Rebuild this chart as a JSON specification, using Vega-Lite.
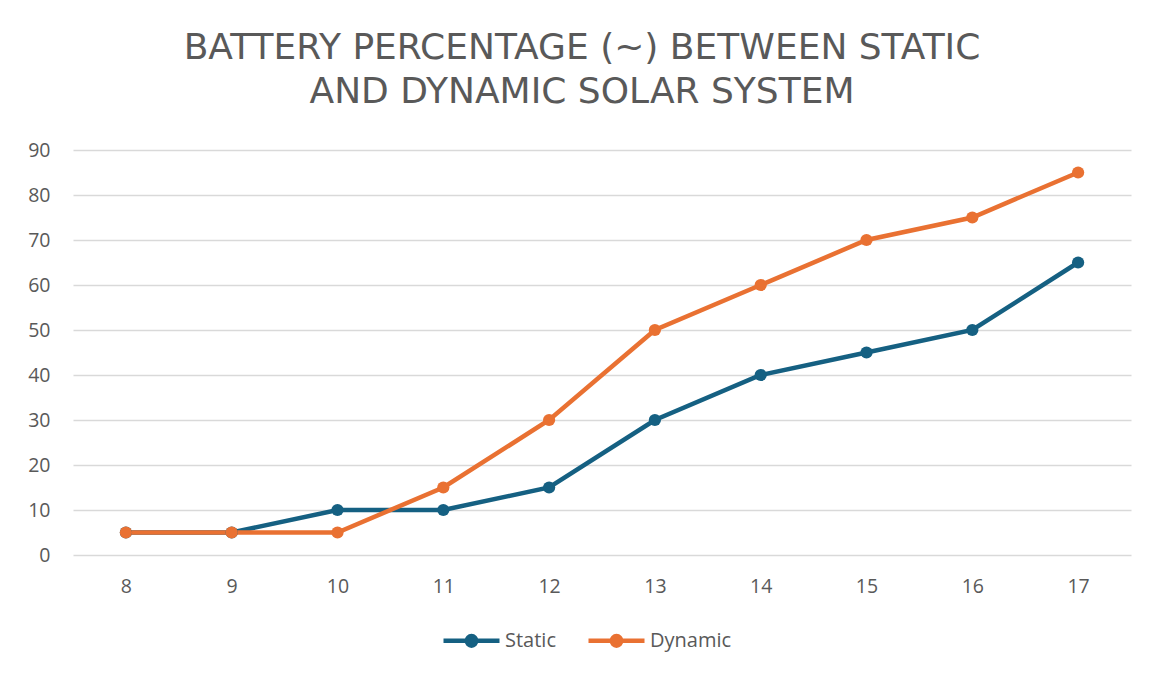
{
  "$schema": "https://vega.github.io/schema/vega-lite/v6.json",
  "width": 1058,
  "height": 405,
  "autosize": {"type": "none"},
  "padding": {"left": 73, "top": 150, "right": 25, "bottom": 120},
  "background": "white",
  "title": {
    "text": ["BATTERY PERCENTAGE (~) BETWEEN STATIC", "AND DYNAMIC SOLAR SYSTEM"],
    "anchor": "middle",
    "frame": "group",
    "dx": -20,
    "offset": 29,
    "font": "DejaVu Sans",
    "fontSize": 36,
    "fontWeight": "normal",
    "color": "#595959",
    "lineHeight": 44
  },
  "data": {
    "values": [
      {"hour": "8", "series": "Static", "pct": 5},
      {"hour": "9", "series": "Static", "pct": 5},
      {"hour": "10", "series": "Static", "pct": 10},
      {"hour": "11", "series": "Static", "pct": 10},
      {"hour": "12", "series": "Static", "pct": 15},
      {"hour": "13", "series": "Static", "pct": 30},
      {"hour": "14", "series": "Static", "pct": 40},
      {"hour": "15", "series": "Static", "pct": 45},
      {"hour": "16", "series": "Static", "pct": 50},
      {"hour": "17", "series": "Static", "pct": 65},
      {"hour": "8", "series": "Dynamic", "pct": 5},
      {"hour": "9", "series": "Dynamic", "pct": 5},
      {"hour": "10", "series": "Dynamic", "pct": 5},
      {"hour": "11", "series": "Dynamic", "pct": 15},
      {"hour": "12", "series": "Dynamic", "pct": 30},
      {"hour": "13", "series": "Dynamic", "pct": 50},
      {"hour": "14", "series": "Dynamic", "pct": 60},
      {"hour": "15", "series": "Dynamic", "pct": 70},
      {"hour": "16", "series": "Dynamic", "pct": 75},
      {"hour": "17", "series": "Dynamic", "pct": 85}
    ]
  },
  "encoding": {
    "x": {
      "field": "hour",
      "type": "ordinal",
      "sort": ["8", "9", "10", "11", "12", "13", "14", "15", "16", "17"],
      "scale": {"type": "point", "padding": 0.5},
      "axis": {
        "title": null,
        "labelAngle": 0,
        "domain": false,
        "ticks": false,
        "grid": false,
        "labelPadding": 22,
        "labelFont": "Open Sans",
        "labelFontSize": 19.5,
        "labelColor": "#595959"
      }
    },
    "y": {
      "field": "pct",
      "type": "quantitative",
      "scale": {"domain": [0, 90], "nice": false},
      "axis": {
        "title": null,
        "values": [0, 10, 20, 30, 40, 50, 60, 70, 80, 90],
        "domain": false,
        "ticks": false,
        "grid": true,
        "gridColor": "#d9d9d9",
        "gridWidth": 1.5,
        "labelPadding": 23,
        "labelFont": "Open Sans",
        "labelFontSize": 19.5,
        "labelColor": "#595959"
      }
    },
    "color": {
      "field": "series",
      "type": "nominal",
      "scale": {"domain": ["Static", "Dynamic"], "range": ["#156082", "#E97132"]},
      "legend": {
        "title": null,
        "orient": "none",
        "direction": "horizontal",
        "legendX": 368,
        "legendY": 460,
        "symbolType": "M-1,0 L1,0 M-0.17,0 A0.17,0.17 0 1,0 0.17,0 A0.17,0.17 0 1,0 -0.17,0 Z",
        "symbolSize": 3136,
        "symbolStrokeWidth": 4.5,
        "labelFont": "Open Sans",
        "labelFontSize": 20,
        "labelColor": "#595959",
        "labelOffset": 3,
        "columnPadding": 23
      }
    }
  },
  "layer": [
    {"mark": {"type": "line", "strokeWidth": 4.5}},
    {"mark": {"type": "point", "filled": true, "opacity": 1, "size": 150}}
  ],
  "config": {"view": {"stroke": null}}
}
